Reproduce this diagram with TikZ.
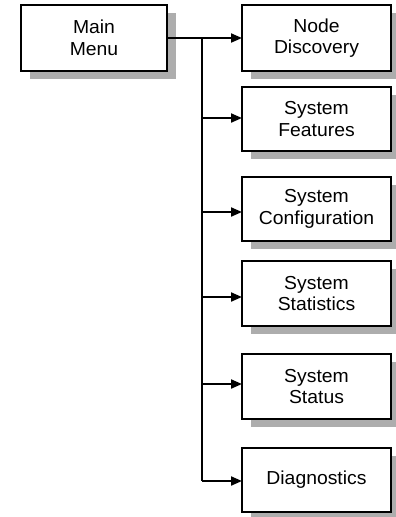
\documentclass[tikz,border=0pt]{standalone}
\usepackage{fontspec}
\setmainfont{Liberation Sans}[FakeStretch=1.03]
\usetikzlibrary{arrows.meta}
\tikzset{
  menubox/.style={draw=black, line width=2pt, fill=white, align=center,
    minimum height=#1, inner sep=0pt,
    font=\fontsize{18.8}{21.5}\selectfont},
  menubox/.default=66pt,
  leftbox/.style={menubox, minimum width=146pt},
  rightbox/.style={menubox=#1, minimum width=149pt},
  rightbox/.default=66pt,
  boxshadow/.style={fill=black!32, draw=none},
  link/.style={line width=2pt},
  arrowlink/.style={link, -{Triangle[length=11pt,width=9pt]}, shorten >=-1pt}
}
\begin{document}
\begin{tikzpicture}[x=1pt, y=-1pt]
  \useasboundingbox (0,0) rectangle (396,517);
  % drop shadows behind the boxes
  \foreach \l/\t/\r/\b in {21/5/167/71, 242/5/391/71, 242/87/391/151,
      242/177/391/241, 242/261/391/326, 242/354/391/419, 242/448/391/512}
    \fill[boxshadow] (\l+8.5,\t+8) rectangle (\r+8.5,\b+8);
  % boxes
  \node[leftbox]  (main)  at (94,38)      {Main\\Menu};
  \node[rightbox] (disc)  at (316.5,38)   {Node\\Discovery};
  \node[rightbox=64pt] (feat)  at (316.5,119)  {System\\Features};
  \node[rightbox=64pt] (conf)  at (316.5,209)  {System\\Configuration};
  \node[rightbox=65pt] (stats) at (316.5,293.5){System\\Statistics};
  \node[rightbox=65pt] (stat)  at (316.5,386.5){System\\Status};
  \node[rightbox=64pt] (diag)  at (316.5,480)  {Diagnostics};
  % trunk and branches
  \coordinate (top) at (202,38);
  \coordinate (bot) at (202,481);
  \draw[link] (main.east) -- (top) -- (bot);
  \draw[arrowlink] (top) -- (disc.west);
  \draw[arrowlink] (202,118) -- (feat.west |- 0,118);
  \draw[arrowlink] (202,212) -- (conf.west |- 0,212);
  \draw[arrowlink] (202,297) -- (stats.west |- 0,297);
  \draw[arrowlink] (202,384) -- (stat.west |- 0,384);
  \draw[arrowlink] (bot) -- (diag.west |- bot);
\end{tikzpicture}
\end{document}
